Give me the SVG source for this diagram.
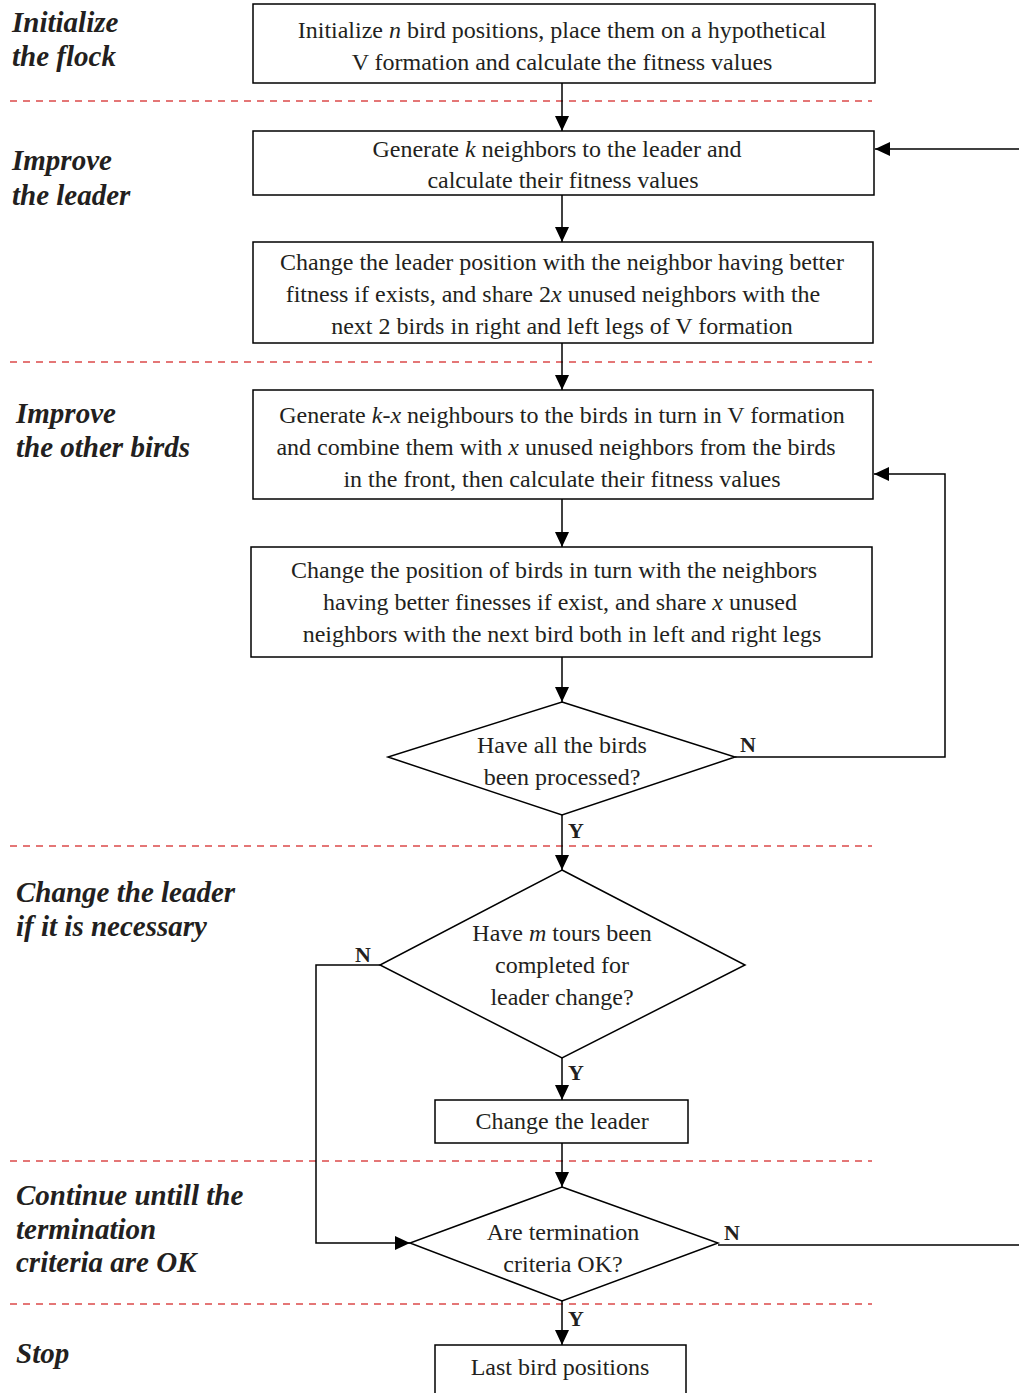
<svg xmlns="http://www.w3.org/2000/svg" width="1019" height="1393" viewBox="0 0 1019 1393">
<style>
.box{fill:#fff;stroke:#000;stroke-width:1.5}
.t{font-family:"Liberation Serif","Times New Roman",serif;font-size:24px;fill:#231f20;text-anchor:middle}
.lab{font-family:"Liberation Serif","Times New Roman",serif;font-size:29px;font-weight:bold;font-style:italic;fill:#231f20}
.yn{font-family:"Liberation Serif","Times New Roman",serif;font-size:22px;font-weight:bold;fill:#231f20}
.dash{stroke:#dc4a4a;stroke-width:1.3;stroke-dasharray:7 6;fill:none}
.c{stroke:#000;stroke-width:1.5;fill:none}
.ca{stroke:#000;stroke-width:1.5;fill:none;marker-end:url(#ah)}
</style>
<defs>
<marker id="ah" viewBox="0 0 15 14" refX="15" refY="7" markerWidth="15" markerHeight="14" markerUnits="userSpaceOnUse" orient="auto">
<path d="M0,0 L15,7 L0,14 Z" fill="#000"/>
</marker>
</defs>
<rect width="1019" height="1393" fill="#fff"/>

<g id="lanes">
<line class="dash" x1="10" y1="101" x2="872" y2="101"/>
<line class="dash" x1="10" y1="362" x2="872" y2="362"/>
<line class="dash" x1="10" y1="846" x2="872" y2="846"/>
<line class="dash" x1="10" y1="1161" x2="872" y2="1161"/>
<line class="dash" x1="10" y1="1304" x2="872" y2="1304"/>
<text class="lab" x="12" y="32">Initialize</text>
<text class="lab" x="12" y="66">the flock</text>
<text class="lab" x="12" y="170">Improve</text>
<text class="lab" x="12" y="205">the leader</text>
<text class="lab" x="16" y="423">Improve</text>
<text class="lab" x="16" y="457">the other birds</text>
<text class="lab" x="16" y="902">Change the leader</text>
<text class="lab" x="16" y="936">if it is necessary</text>
<text class="lab" x="16" y="1205">Continue untill the</text>
<text class="lab" x="16" y="1239">termination</text>
<text class="lab" x="16" y="1272">criteria are OK</text>
<text class="lab" x="16" y="1363">Stop</text>
</g>

<g id="connectors">
<line class="ca" x1="562" y1="83" x2="562" y2="131"/>
<polyline class="ca" points="1019,149 875,149"/>
<line class="ca" x1="562" y1="195" x2="562" y2="242"/>
<line class="ca" x1="562" y1="343" x2="562" y2="390"/>
<line class="ca" x1="562" y1="499" x2="562" y2="547"/>
<polyline class="ca" points="735,757 945,757 945,474 874,474"/>
<line class="ca" x1="562" y1="657" x2="562" y2="702"/>
<line class="ca" x1="562" y1="815" x2="562" y2="870"/>
<polyline class="ca" points="380,965 316,965 316,1243 410,1243"/>
<line class="ca" x1="562" y1="1058" x2="562" y2="1100"/>
<line class="ca" x1="562" y1="1143" x2="562" y2="1187"/>
<line class="c" x1="718" y1="1245" x2="1019" y2="1245"/>
<line class="ca" x1="562" y1="1301" x2="562" y2="1345"/>
<text class="yn" x="740" y="752">N</text>
<text class="yn" x="568" y="838">Y</text>
<text class="yn" x="355" y="962">N</text>
<text class="yn" x="568" y="1080">Y</text>
<text class="yn" x="724" y="1240">N</text>
<text class="yn" x="568" y="1326">Y</text>
</g>

<g id="n1">
<rect class="box" x="253" y="4" width="622" height="79"/>
<text class="t" x="562" y="38">Initialize <tspan font-style="italic">n</tspan> bird positions, place them on a hypothetical</text>
<text class="t" x="562" y="70">V formation and calculate the fitness values</text>
</g>
<g id="n2">
<rect class="box" x="253" y="131" width="621" height="64"/>
<text class="t" x="557" y="157">Generate <tspan font-style="italic">k</tspan> neighbors to the leader and</text>
<text class="t" x="563" y="188">calculate their fitness values</text>
</g>
<g id="n3">
<rect class="box" x="253" y="242" width="620" height="101"/>
<text class="t" x="562" y="270">Change the leader position with the neighbor having better</text>
<text class="t" x="553" y="302">fitness if exists, and share 2<tspan font-style="italic">x</tspan> unused neighbors with the</text>
<text class="t" x="562" y="334">next 2 birds in right and left legs of V formation</text>
</g>
<g id="n4">
<rect class="box" x="253" y="390" width="620" height="109"/>
<text class="t" x="562" y="423">Generate <tspan font-style="italic">k-x</tspan> neighbours to the birds in turn in V formation</text>
<text class="t" x="556" y="455">and combine them with <tspan font-style="italic">x</tspan> unused neighbors from the birds</text>
<text class="t" x="562" y="487">in the front, then calculate their fitness values</text>
</g>
<g id="n5">
<rect class="box" x="251" y="547" width="621" height="110"/>
<text class="t" x="554" y="578">Change the position of birds in turn with the neighbors</text>
<text class="t" x="560" y="610">having better finesses if exist, and share <tspan font-style="italic">x</tspan> unused</text>
<text class="t" x="562" y="642">neighbors with the next bird both in left and right legs</text>
</g>
<g id="d1">
<polygon class="box" points="562,702 735,757 562,815 388,757"/>
<text class="t" x="562" y="753">Have all the birds</text>
<text class="t" x="562" y="785">been processed?</text>
</g>
<g id="d2">
<polygon class="box" points="562,870 745,965 562,1058 380,965"/>
<text class="t" x="562" y="941">Have <tspan font-style="italic">m</tspan> tours been</text>
<text class="t" x="562" y="973">completed for</text>
<text class="t" x="562" y="1005">leader change?</text>
</g>
<g id="n6">
<rect class="box" x="435" y="1100" width="253" height="43"/>
<text class="t" x="562" y="1129">Change the leader</text>
</g>
<g id="d3">
<polygon class="box" points="562,1187 718,1243 562,1301 410,1243"/>
<text class="t" x="563" y="1240">Are termination</text>
<text class="t" x="563" y="1272">criteria OK?</text>
</g>
<g id="n7">
<rect class="box" x="435" y="1345" width="251" height="60"/>
<text class="t" x="560" y="1375">Last bird positions</text>
</g>
</svg>
